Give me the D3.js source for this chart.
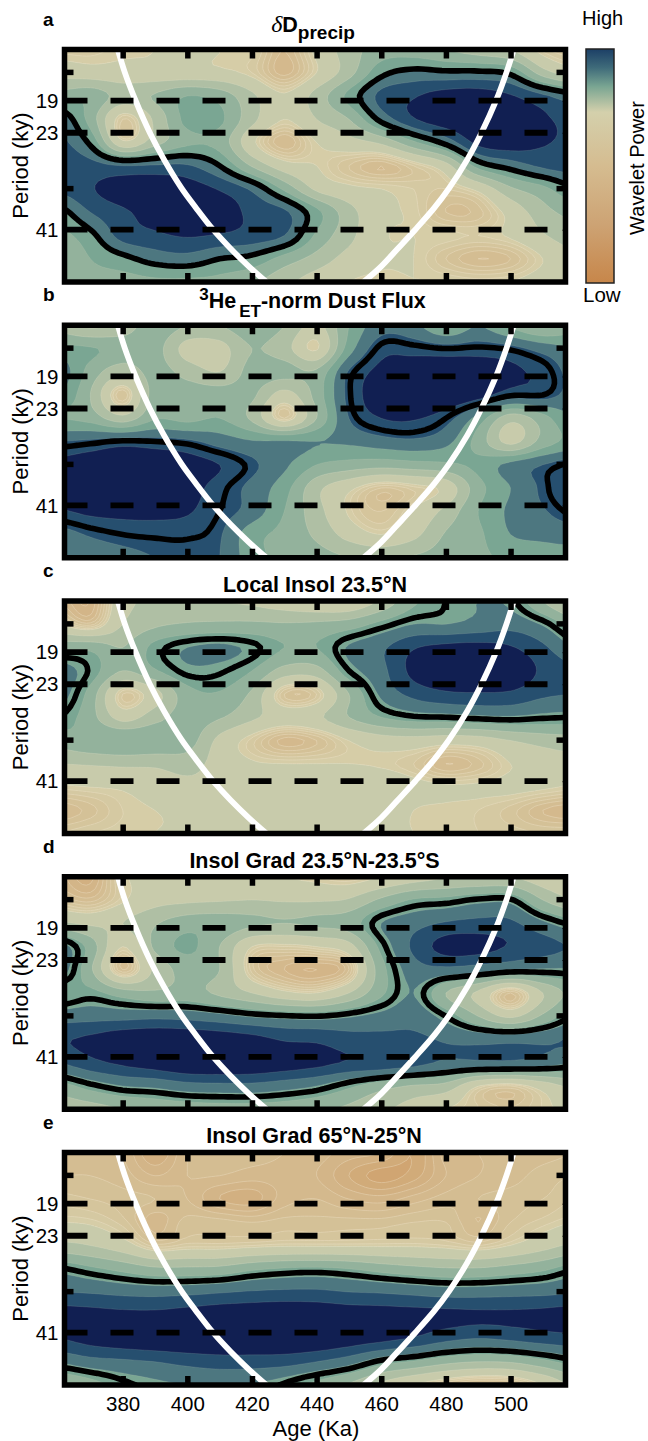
<!DOCTYPE html>
<html>
<head>
<meta charset="utf-8">
<script src="https://cdnjs.cloudflare.com/ajax/libs/d3/7.8.5/d3.min.js"></script>
<style>
  html, body { margin: 0; padding: 0; background: #fff; }
  svg { display: block; }
  text { font-family: "Liberation Sans", Arial, sans-serif; fill: #000; }
  .axis path { display: none; }
  .axis line { stroke: #000; }
</style>
</head>
<body>
<div id="chart"></div>
<script>
// grid axes of the wavelet power values
const ages = [360, 370, 380, 390, 400, 410, 420, 430, 440, 450, 460, 470, 480, 490, 500, 510, 520];
const periodRows = [14, 16.1, 18.5, 21.2, 24.4, 28, 32.2, 37, 42.4, 48.7, 56];

const powerA = [
  [2.7, 2.7, 2.9, 3.0, 3.3, 3.0, 2.9, 2.0, 3.2, 4.5, 5.5, 5.5, 5.0, 4.5, 4.0, 2.7, 2.4],
  [3.6, 3.4, 3.3, 3.3, 3.3, 3.2, 2.8, 1.9, 3.0, 4.6, 6.7, 7.3, 7.2, 7.2, 6.8, 4.5, 3.4],
  [5.5, 5.7, 4.6, 5.1, 6.0, 5.6, 4.2, 3.1, 4.4, 6.3, 8.3, 8.9, 9.5, 9.6, 9.1, 8.2, 7.3],
  [7.8, 5.6, 2.6, 4.2, 6.3, 6.2, 4.3, 3.0, 4.0, 5.0, 7.3, 8.9, 9.7, 9.9, 9.7, 9.2, 8.5],
  [8.3, 6.8, 3.2, 4.6, 5.8, 5.6, 3.2, 2.0, 3.0, 3.6, 4.2, 5.8, 7.3, 9.3, 9.6, 9.1, 8.8],
  [8.6, 8.4, 8.0, 8.1, 8.1, 7.0, 4.9, 3.4, 3.0, 2.4, 2.0, 2.6, 3.6, 6.4, 7.4, 8.2, 8.5],
  [8.2, 8.9, 9.6, 9.9, 9.6, 8.9, 7.8, 5.8, 3.8, 3.2, 3.0, 2.8, 2.6, 3.2, 4.8, 5.7, 6.9],
  [6.6, 8.0, 8.8, 9.5, 10, 9.7, 8.7, 8.2, 6.3, 4.4, 3.2, 2.9, 2.2, 2.3, 3.3, 4.6, 5.4],
  [5.6, 6.7, 8.4, 8.8, 9.1, 8.9, 8.6, 8.0, 5.8, 4.3, 3.1, 3.0, 2.9, 2.8, 3.1, 3.9, 4.6],
  [4.9, 6.0, 6.7, 7.4, 7.6, 7.0, 6.7, 5.6, 4.6, 3.6, 3.1, 3.0, 2.4, 2.0, 2.2, 3.0, 3.8],
  [5.2, 5.6, 5.6, 5.8, 5.8, 5.7, 5.2, 4.3, 3.5, 3.0, 2.9, 3.0, 3.0, 2.9, 3.0, 3.4, 3.9]
];
const powerB = [
  [4.6, 3.8, 4.4, 5.6, 5.0, 5.0, 5.7, 5.0, 3.7, 6.0, 7.6, 7.3, 6.0, 7.0, 5.8, 4.8, 5.6],
  [6.3, 6.1, 5.6, 5.4, 3.6, 3.6, 5.0, 4.4, 2.9, 6.5, 8.6, 8.6, 8.4, 8.5, 8.3, 7.6, 7.0],
  [7.7, 5.6, 4.4, 5.4, 4.6, 4.0, 5.4, 5.4, 5.2, 8.1, 9.3, 9.7, 9.8, 9.7, 9.2, 8.7, 7.6],
  [7.0, 5.0, 2.4, 5.5, 5.6, 5.6, 5.2, 3.6, 5.4, 8.3, 9.6, 10, 9.9, 9.4, 8.5, 8.4, 7.6],
  [6.0, 5.6, 4.4, 5.9, 5.7, 6.0, 4.8, 2.6, 5.0, 8.0, 9.0, 9.1, 8.4, 6.6, 4.4, 5.6, 7.1],
  [8.0, 8.2, 8.5, 8.4, 8.2, 7.6, 7.1, 7.1, 7.0, 7.2, 7.6, 7.8, 7.3, 5.6, 3.7, 5.4, 6.4],
  [9.3, 9.7, 9.9, 9.9, 9.5, 9.0, 8.2, 7.2, 6.0, 5.6, 5.4, 5.6, 5.8, 6.3, 7.3, 8.0, 8.6],
  [9.4, 9.7, 9.9, 9.8, 9.4, 8.6, 7.7, 6.4, 4.3, 3.2, 2.4, 2.7, 3.3, 5.6, 7.0, 8.2, 9.2],
  [8.9, 9.2, 9.3, 9.3, 9.1, 8.4, 7.6, 6.0, 4.4, 2.9, 2.4, 3.1, 4.3, 6.0, 7.2, 7.9, 8.6],
  [7.6, 8.1, 8.4, 8.5, 8.5, 8.1, 6.4, 5.7, 4.8, 3.6, 3.0, 3.7, 5.1, 5.8, 7.0, 7.3, 7.5],
  [7.0, 7.4, 7.7, 8.0, 8.1, 8.0, 6.4, 5.7, 5.4, 5.0, 4.8, 5.1, 5.4, 5.8, 6.2, 6.4, 6.6]
];
const powerC = [
  [2.0, 1.6, 3.6, 4.2, 4.1, 4.0, 3.8, 3.4, 3.0, 3.0, 4.2, 5.8, 6.6, 7.0, 6.8, 5.0, 3.6],
  [3.0, 2.3, 4.0, 4.8, 5.1, 5.2, 5.2, 5.1, 5.2, 5.5, 6.3, 7.0, 7.0, 7.3, 7.6, 6.9, 5.5],
  [5.7, 5.7, 5.0, 6.3, 7.0, 7.2, 6.8, 6.0, 6.0, 7.1, 7.8, 8.9, 9.3, 9.4, 9.1, 8.2, 7.0],
  [7.5, 6.5, 5.0, 5.9, 6.8, 6.7, 6.0, 4.6, 4.6, 6.6, 7.7, 9.3, 9.9, 10, 9.9, 8.8, 8.2],
  [7.5, 5.6, 2.6, 3.6, 5.6, 5.9, 4.8, 2.4, 2.6, 5.0, 7.2, 8.3, 8.8, 8.9, 8.8, 8.2, 8.0],
  [6.6, 5.4, 3.6, 4.6, 5.5, 5.1, 4.2, 3.5, 3.8, 5.0, 6.0, 6.5, 6.6, 6.8, 6.9, 6.7, 6.6],
  [5.5, 5.9, 6.0, 5.9, 5.5, 3.7, 2.7, 1.9, 2.2, 3.0, 3.5, 3.6, 3.4, 3.5, 4.0, 4.4, 4.6],
  [4.0, 4.1, 4.2, 4.2, 4.4, 3.6, 3.1, 3.0, 3.0, 3.0, 2.9, 2.6, 2.0, 2.3, 3.0, 3.4, 3.6],
  [2.9, 3.0, 3.1, 3.4, 3.7, 3.8, 3.8, 3.8, 3.8, 3.8, 3.8, 3.3, 3.1, 3.1, 3.2, 3.1, 2.9],
  [2.0, 2.3, 2.8, 3.0, 3.2, 3.6, 3.7, 3.8, 3.8, 3.7, 3.4, 3.0, 2.9, 2.8, 2.5, 2.0, 1.8],
  [2.6, 2.8, 2.9, 3.0, 3.0, 3.0, 3.0, 3.0, 3.0, 3.0, 3.0, 3.0, 2.9, 2.8, 2.7, 2.6, 2.6]
];
const powerD = [
  [1.9, 1.5, 2.9, 3.0, 3.1, 3.1, 3.1, 3.0, 2.8, 2.6, 3.0, 3.5, 3.9, 4.0, 4.0, 3.4, 3.0],
  [2.4, 2.1, 2.9, 3.6, 3.8, 3.9, 4.0, 3.9, 3.9, 4.1, 5.2, 6.1, 6.3, 6.7, 6.7, 5.0, 4.0],
  [4.2, 3.8, 4.0, 4.9, 5.6, 5.6, 5.2, 5.0, 5.2, 5.5, 7.0, 7.6, 8.1, 8.3, 8.2, 7.2, 6.4],
  [7.5, 5.6, 3.0, 5.2, 6.2, 5.0, 3.0, 2.8, 3.0, 3.6, 6.3, 8.2, 9.4, 9.4, 8.9, 8.4, 7.9],
  [7.6, 5.2, 2.2, 4.2, 5.4, 5.0, 2.5, 1.8, 1.6, 2.2, 5.6, 7.5, 7.7, 7.4, 7.0, 6.9, 6.9],
  [6.0, 6.3, 5.5, 5.2, 5.4, 4.8, 4.0, 3.2, 3.0, 4.0, 5.8, 7.0, 5.0, 3.8, 2.2, 4.0, 5.4],
  [7.5, 7.6, 7.6, 7.7, 7.6, 7.3, 6.9, 6.7, 6.6, 6.9, 7.3, 7.6, 6.6, 5.0, 3.8, 5.2, 6.7],
  [8.9, 9.2, 9.7, 9.9, 9.9, 9.7, 9.4, 8.9, 8.8, 8.4, 8.3, 8.2, 7.9, 7.7, 7.7, 7.8, 8.1],
  [8.0, 8.7, 9.2, 9.6, 10, 10, 9.9, 9.6, 9.3, 8.9, 8.8, 8.4, 7.8, 7.8, 7.8, 7.5, 7.0],
  [5.6, 6.4, 7.0, 7.2, 7.6, 7.7, 7.7, 7.4, 7.0, 6.2, 5.4, 4.9, 4.6, 3.0, 2.6, 3.4, 4.3],
  [4.4, 4.6, 5.0, 5.3, 5.5, 5.6, 5.6, 5.5, 5.2, 4.8, 4.2, 3.6, 3.0, 2.6, 2.4, 2.8, 3.3]
];
const powerE = [
  [2.0, 2.1, 2.0, 1.4, 2.0, 2.1, 2.1, 2.0, 1.9, 1.7, 1.6, 1.2, 1.9, 2.0, 2.0, 2.1, 2.2],
  [2.2, 2.2, 2.1, 1.8, 2.0, 2.0, 1.9, 1.9, 1.8, 1.4, 1.1, 1.3, 1.8, 2.0, 2.1, 2.3, 2.4],
  [2.5, 2.4, 2.3, 2.2, 2.0, 1.6, 1.5, 1.9, 2.0, 1.8, 1.7, 1.9, 2.1, 2.2, 2.3, 2.4, 2.6],
  [3.0, 2.9, 2.5, 1.9, 2.3, 2.3, 2.2, 2.3, 2.3, 2.3, 2.3, 2.4, 2.4, 2.0, 2.4, 2.7, 3.0],
  [4.3, 4.0, 3.4, 2.5, 2.7, 2.7, 2.8, 2.9, 2.9, 2.9, 2.9, 2.9, 2.8, 2.6, 3.0, 3.6, 4.2],
  [6.7, 6.2, 5.7, 5.2, 5.2, 5.3, 5.8, 6.1, 6.2, 6.0, 5.6, 5.3, 5.1, 5.1, 5.4, 5.8, 6.5],
  [8.0, 7.9, 7.7, 7.6, 7.7, 7.9, 8.1, 8.2, 8.2, 8.0, 7.9, 7.7, 7.5, 7.5, 7.6, 7.7, 7.9],
  [9.5, 9.4, 9.3, 9.3, 9.5, 9.7, 9.8, 9.9, 9.8, 9.6, 9.5, 9.4, 9.3, 9.2, 9.2, 9.3, 9.5],
  [9.0, 9.4, 9.7, 9.9, 10, 10, 10, 10, 9.9, 9.6, 9.3, 8.9, 8.3, 8.0, 8.2, 8.5, 8.7],
  [7.1, 7.6, 7.8, 8.0, 8.3, 8.5, 8.5, 8.4, 8.0, 7.4, 6.4, 5.9, 5.3, 5.0, 5.1, 5.7, 6.4],
  [5.0, 5.6, 6.4, 6.8, 7.0, 7.1, 7.0, 6.5, 5.7, 4.9, 3.8, 3.0, 2.4, 2.0, 2.1, 3.0, 4.2]
];
const panelGrids = [powerA, powerB, powerC, powerD, powerE];
const panelLetters = ['a', 'b', 'c', 'd', 'e'];
// significance level of each panel, on the same power units
const sigLevels = [7, 8.4, 6.6, 6.6, 6.6];

// cone of influence
const coiPeriods = [14, 16, 19, 23, 27, 32, 36, 41, 46, 51, 56];
const coiLeft = [378.5, 380.6, 384, 388.4, 392.8, 398.2, 402.7, 408, 413.5, 419, 424.5];
const coiRight = [501, 498.8, 495.5, 491, 486.6, 481, 476.4, 470.5, 465, 460, 454.5];

const ageTicks = [380, 400, 420, 440, 460, 480, 500];
const periodTicks = [16, 19, 23, 32, 41];
const periodLabels = [19, 23, 41];
const dashPeriods = [19, 23, 41];

// colour bands
const tanLevels = d3.range(0.2, 3.01, 0.2);
const bandLevels = [3, 4, 5, 6, 7, 8, 9];
const bandColors = ['#d6d1ac', '#c8cbab', '#afbfa4', '#93b29c', '#7aa693', '#4d7780', '#264f6f', '#111f52'];
const tanColor = d3.scaleLinear().domain([0, 1.5, 3]).range(['#c98a4b', '#d3b385', '#d6d1ac']);
const barStops = [[0, '#1c3f66'], [0.08, '#3f6b7a'], [0.16, '#79a592'], [0.27, '#d4d0ac'], [0.5, '#d5bc90'], [0.75, '#cda374'], [1, '#c7864a']];

const svg = d3.select('#chart').append('svg').attr('width', 648).attr('height', 1441);

const plotLeft = 64.5, plotRight = 565.5, plotTop = 49.5, plotH = 232.5, panelStep = 275.75;
const x = d3.scaleLinear().domain([362, 517]).range([plotLeft, plotRight]);

const upX = 8, upY = 6;

function catmull(p0, p1, p2, p3, t) {
  return 0.5 * (2 * p1 + (p2 - p0) * t + (2 * p0 - 5 * p1 + 4 * p2 - p3) * t * t + (3 * p1 - p0 - 3 * p2 + p3) * t * t * t);
}

// resample the read grid only so that the contour lines render smooth
function smoothGrid(grid) {
  const rows = grid.length, cols = grid[0].length;
  const n = (cols - 1) * upX + 1, m = (rows - 1) * upY + 1;
  const at = (r, c) => grid[Math.max(0, Math.min(rows - 1, r))][Math.max(0, Math.min(cols - 1, c))];
  const out = new Float64Array(n * m);
  for (let j = 0; j < m; j++) {
    const r = Math.min(Math.floor(j / upY), rows - 2), tr = j / upY - r;
    for (let i = 0; i < n; i++) {
      const c = Math.min(Math.floor(i / upX), cols - 2), tc = i / upX - c;
      const v = [-1, 0, 1, 2].map(dr => catmull(at(r + dr, c - 1), at(r + dr, c), at(r + dr, c + 1), at(r + dr, c + 2), tc));
      out[j * n + i] = catmull(v[0], v[1], v[2], v[3], tr);
    }
  }
  return { values: out, n, m };
}

panelGrids.forEach((grid, k) => {
  const top = plotTop + k * panelStep;
  const y = d3.scaleLog().domain([14, 56]).range([top, top + plotH]);
  const g = svg.append('g');

  const clipId = 'clip-' + k;
  svg.append('clipPath').attr('id', clipId).append('rect')
    .attr('x', plotLeft).attr('y', top).attr('width', plotRight - plotLeft).attr('height', plotH);
  const body = g.append('g').attr('clip-path', 'url(#' + clipId + ')');

  const { values, n, m } = smoothGrid(grid);
  const colX = d3.scaleLinear().domain([0, ages.length - 1]).range([x(ages[0]), x(ages[ages.length - 1])]);
  const rowY = d3.scaleLinear().domain([0, periodRows.length - 1]).range([y(periodRows[0]), y(periodRows[periodRows.length - 1])]);
  const path = d3.geoPath(d3.geoTransform({
    point(px, py) { this.stream.point(colX((px - 0.5) / upX), rowY((py - 0.5) / upY)); }
  }));
  const contourAt = t => d3.contours().size([n, m]).smooth(true).thresholds([t])(values)[0];

  body.append('rect').attr('x', plotLeft).attr('y', top).attr('width', plotRight - plotLeft).attr('height', plotH)
    .attr('fill', tanColor(0.2));

  tanLevels.forEach(t => {
    body.append('path').attr('d', path(contourAt(t)))
      .attr('fill', tanColor(t)).attr('stroke', '#f3e9d0').attr('stroke-opacity', 0.7).attr('stroke-width', 0.5);
  });
  bandLevels.forEach((t, i) => {
    body.append('path').attr('d', path(contourAt(t)))
      .attr('fill', bandColors[i + 1]).attr('stroke', '#e6e6d0').attr('stroke-opacity', i < 3 ? 0.5 : 0.25).attr('stroke-width', 0.5);
  });

  // significance contour
  body.append('path').attr('d', path(contourAt(sigLevels[k])))
    .attr('fill', 'none').attr('stroke', '#000').attr('stroke-width', 5.6).attr('stroke-linejoin', 'round');

  // cone of influence
  const coiLine = d3.line().curve(d3.curveCatmullRom.alpha(0.5))
    .x(d => x(d[0])).y(d => y(d[1]));
  [coiLeft, coiRight].forEach(side => {
    body.append('path').attr('d', coiLine(side.map((a, i) => [a, coiPeriods[i]])))
      .attr('fill', 'none').attr('stroke', '#fff').attr('stroke-width', 5.8);
  });

  // orbital periods
  dashPeriods.forEach(p => {
    body.append('line').attr('x1', plotLeft).attr('x2', plotRight).attr('y1', y(p)).attr('y2', y(p))
      .attr('stroke', '#000').attr('stroke-width', 5.8).attr('stroke-dasharray', '23 23');
  });

  // ticks, all pointing inwards
  const tickStyle = sel => sel.selectAll('line').attr('stroke-width', 5.5);
  g.append('g').attr('class', 'axis').attr('transform', 'translate(0,' + (top + plotH) + ')')
    .call(d3.axisBottom(x).tickValues(ageTicks).tickSize(-9).tickPadding(11).tickFormat(k === 4 ? d3.format('d') : ''))
    .call(tickStyle)
    .call(a => a.selectAll('text').attr('font-size', 20.5));
  g.append('g').attr('class', 'axis').attr('transform', 'translate(0,' + top + ')')
    .call(d3.axisTop(x).tickValues(ageTicks).tickSize(-9).tickFormat(''))
    .call(tickStyle);
  g.append('g').attr('class', 'axis').attr('transform', 'translate(' + plotLeft + ',0)')
    .call(d3.axisLeft(y).tickValues(periodTicks).tickSize(-9).tickPadding(6)
      .tickFormat(d => periodLabels.includes(d) ? d : ''))
    .call(a => a.selectAll('line').attr('stroke-width', d => periodLabels.includes(d) ? 0 : 5.5))
    .call(a => a.selectAll('text').attr('font-size', 20.5));
  g.append('g').attr('class', 'axis').attr('transform', 'translate(' + plotRight + ',0)')
    .call(d3.axisRight(y).tickValues(periodTicks).tickSize(-9).tickFormat(''))
    .call(a => a.selectAll('line').attr('stroke-width', d => periodLabels.includes(d) ? 1 : 5.5)
      .attr('x2', d => periodLabels.includes(d) ? -3 : -9));

  g.append('rect').attr('x', plotLeft).attr('y', top).attr('width', plotRight - plotLeft).attr('height', plotH)
    .attr('fill', 'none').attr('stroke', '#000').attr('stroke-width', 5.5);

  g.append('text').attr('x', 43).attr('y', top - 24).attr('font-size', 19).attr('font-weight', 'bold').text(panelLetters[k]);
  g.append('text').attr('transform', 'translate(28,' + (top + 116) + ') rotate(-90)')
    .attr('text-anchor', 'middle').attr('font-size', 22).text('Period (ky)');
});

// titles
const titleX = [313, 312.5, 315, 314.5, 314];
const titleLift = [17.5, 17.5, 9, 9, 10];
const title = k => svg.append('text').attr('x', titleX[k]).attr('y', plotTop + k * panelStep - titleLift[k])
  .attr('text-anchor', 'middle').attr('font-size', 21.5).attr('font-weight', 'bold');

const tA = title(0);
tA.append('tspan').attr('font-family', 'Liberation Serif').attr('font-style', 'italic').attr('font-weight', 'normal').attr('font-size', 24).text('δ');
tA.append('tspan').text('D');
tA.append('tspan').attr('dy', 7).attr('font-size', 19).text('precip');

const tB = title(1);
tB.append('tspan').attr('dy', -8).attr('font-size', 17).text('3');
tB.append('tspan').attr('dy', 8).text('He');
tB.append('tspan').attr('dy', 9).attr('dx', 3).attr('font-size', 17).text('ET');
tB.append('tspan').attr('dy', -9).text('-norm Dust Flux');

title(2).text('Local Insol 23.5°N');
title(3).text('Insol Grad 23.5°N-23.5°S');
title(4).text('Insol Grad 65°N-25°N');

svg.append('text').attr('x', 316).attr('y', 1436).attr('text-anchor', 'middle').attr('font-size', 22).text('Age (Ka)');

// colour bar
const grad = svg.append('defs').append('linearGradient').attr('id', 'bar').attr('x1', 0).attr('x2', 0).attr('y1', 0).attr('y2', 1);
barStops.forEach(s => grad.append('stop').attr('offset', s[0]).attr('stop-color', s[1]));
svg.append('rect').attr('x', 586).attr('y', 49).attr('width', 28).attr('height', 234)
  .attr('fill', 'url(#bar)').attr('stroke', '#222').attr('stroke-width', 1.5);
svg.append('text').attr('x', 582).attr('y', 25).attr('font-size', 20).text('High');
svg.append('text').attr('x', 583).attr('y', 302).attr('font-size', 20.5).text('Low');
svg.append('text').attr('transform', 'translate(644,168) rotate(-90)').attr('text-anchor', 'middle').attr('font-size', 20).text('Wavelet Power');
</script>
</body>
</html>
